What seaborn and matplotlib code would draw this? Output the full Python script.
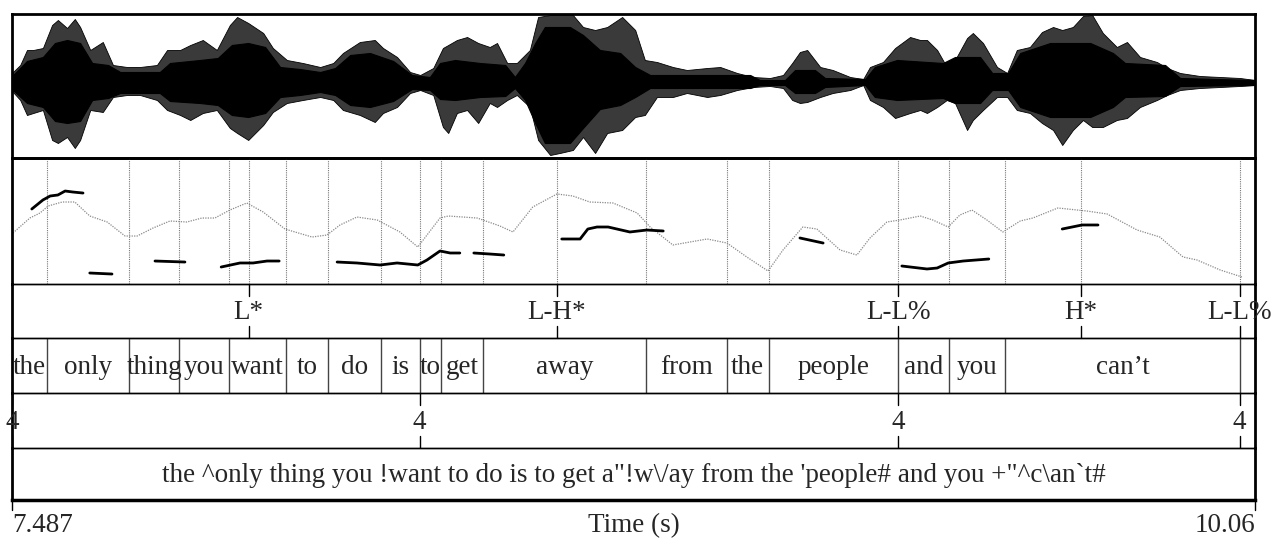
import numpy as np
import pandas as pd
import matplotlib
matplotlib.use("Agg")
import matplotlib.pyplot as plt
from matplotlib.lines import Line2D
import seaborn as sns

# ---------------- data ----------------
T0, T1 = 7.487, 10.06

# waveform: outer spike envelope
wave_t = [7.489, 7.504, 7.518, 7.531, 7.551, 7.570, 7.582, 7.601, 7.617, 7.628,
          7.649, 7.675, 7.696, 7.725, 7.752, 7.787, 7.808, 7.835, 7.856, 7.882,
          7.911, 7.938, 7.953, 7.976, 8.007, 8.027, 8.056, 8.089, 8.125, 8.152,
          8.172, 8.207, 8.238, 8.255, 8.284, 8.311, 8.332, 8.359, 8.379, 8.390,
          8.408, 8.429, 8.452, 8.476, 8.491, 8.512, 8.532, 8.559, 8.576, 8.601,
          8.621, 8.648, 8.669, 8.694, 8.719, 8.750, 8.777, 8.797, 8.822, 8.855,
          8.884, 8.926, 8.953, 8.988, 9.021, 9.056, 9.083, 9.102, 9.118, 9.133,
          9.160, 9.186, 9.222, 9.249, 9.263, 9.290, 9.315, 9.346, 9.367, 9.381,
          9.402, 9.422, 9.439, 9.464, 9.476, 9.497, 9.526, 9.547, 9.567, 9.594,
          9.619, 9.642, 9.661, 9.683, 9.704, 9.723, 9.745, 9.774, 9.795, 9.822,
          9.857, 9.878, 9.905, 9.946, 9.988, 10.029, 10.060]
wave_hi = [11, 18, 33, 33, 35, 58, 63, 55, 64, 56,
           33, 41, 18, 16, 16, 18, 33, 33, 38, 43,
           33, 58, 66, 60, 50, 35, 23, 20, 16, 20,
           30, 41, 43, 35, 26, 11, 8, 15, 35, 38,
           43, 46, 40, 36, 40, 20, 20, 33, 66, 68,
           68, 68, 56, 53, 56, 66, 53, 23, 21, 16,
           13, 15, 16, 10, 6, 5, 8, 20, 31, 33,
           16, 13, 6, 4, 16, 21, 35, 46, 43, 43,
           33, 16, 23, 45, 50, 40, 16, 10, 33, 36,
           51, 56, 53, 56, 67, 68, 50, 36, 41, 26,
           21, 15, 10, 7, 6, 5, 3]
wave_lo = [-9, -17, -32, -30, -27, -57, -60, -54, -65, -57,
           -27, -29, -14, -12, -12, -17, -27, -32, -37, -30,
           -27, -45, -50, -57, -42, -29, -20, -17, -14, -17,
           -27, -32, -39, -30, -24, -10, -7, -12, -44, -50,
           -30, -27, -40, -20, -24, -17, -12, -24, -57, -72,
           -70, -67, -54, -70, -50, -47, -34, -32, -14, -14,
           -10, -14, -12, -7, -4, -3, -5, -17, -20, -19,
           -14, -10, -7, -2, -17, -24, -35, -30, -27, -30,
           -24, -17, -20, -47, -37, -27, -14, -14, -27, -30,
           -40, -47, -62, -47, -37, -44, -44, -37, -35, -24,
           -17, -12, -7, -5, -4, -3, -2]

# waveform: dense core
core_t = [7.489, 7.518, 7.551, 7.576, 7.601, 7.628, 7.653, 7.686, 7.711, 7.793,
          7.814, 7.876, 7.913, 7.942, 7.976, 8.011, 8.042, 8.083, 8.125, 8.156,
          8.187, 8.228, 8.276, 8.315, 8.352, 8.373, 8.404, 8.456, 8.508, 8.528,
          8.549, 8.570, 8.590, 8.642, 8.669, 8.704, 8.746, 8.777, 8.808, 9.015,
          9.035, 9.087, 9.108, 9.149, 9.170, 9.253, 9.273, 9.319, 9.414, 9.439,
          9.491, 9.516, 9.549, 9.574, 9.636, 9.719, 9.766, 9.791, 9.874, 9.905,
          10.060]
core_hi = [8, 22, 26, 40, 43, 40, 20, 18, 11, 11,
           20, 23, 25, 38, 40, 36, 16, 14, 11, 15,
           28, 30, 22, 8, 6, 20, 23, 20, 18, 6,
           20, 40, 56, 56, 48, 33, 30, 16, 8, 8,
           3, 3, 13, 13, 5, 4, 16, 23, 20, 26,
           26, 10, 10, 30, 40, 40, 30, 20, 18, 5,
           3]
core_lo = [-7, -20, -24, -38, -40, -38, -17, -15, -10, -10,
           -18, -20, -22, -32, -34, -30, -14, -12, -9, -12,
           -22, -24, -18, -6, -7, -16, -17, -14, -13, -5,
           -17, -40, -60, -60, -45, -26, -22, -14, -5, -5,
           -2, -2, -10, -10, -4, -2, -14, -17, -15, -20,
           -20, -7, -7, -24, -34, -34, -24, -14, -13, -3,
           -2]

# stylised pitch (thick black segments)
pitch_seg = [1, 1, 1, 1, 1, 1, 1,
             2, 2,
             3, 3,
             4, 4, 4, 4, 4,
             5, 5, 5, 5, 5, 5, 5, 5, 5,
             6, 6, 6,
             7, 7, 7, 7, 7, 7, 7, 7,
             8, 8,
             9, 9, 9, 9, 9, 9,
             10, 10, 10]
pitch_t = [7.528, 7.551, 7.566, 7.582, 7.597, 7.613, 7.634,
           7.648, 7.694,
           7.783, 7.845,
           7.920, 7.959, 7.986, 8.015, 8.040,
           8.160, 8.201, 8.249, 8.284, 8.327, 8.346, 8.373, 8.394, 8.414,
           8.443, 8.476, 8.505,
           8.625, 8.663, 8.679, 8.698, 8.721, 8.766, 8.801, 8.835,
           9.118, 9.166,
           9.329, 9.381, 9.402, 9.425, 9.456, 9.509,
           9.661, 9.702, 9.735]
pitch_hz = [198.8, 216.7, 224.6, 226.6, 234.5, 232.5, 230.5,
            71.8, 69.8,
            95.6, 93.6,
            83.7, 91.7, 91.7, 95.6, 95.6,
            93.6, 91.7, 87.7, 91.7, 87.7, 97.6, 115.5, 111.5, 111.5,
            111.5, 109.5, 107.5,
            139.3, 139.3, 159.1, 163.1, 163.1, 153.2, 157.1, 155.2,
            141.3, 131.3,
            85.7, 79.8, 81.7, 91.7, 95.6, 99.6,
            159.1, 167.1, 167.1]

# smoothed contour (grey dotted)
contour_t = [7.489, 7.524, 7.545, 7.562, 7.591, 7.617, 7.648, 7.684, 7.721, 7.746,
             7.779, 7.814, 7.849, 7.880, 7.907, 7.938, 7.973, 8.007, 8.052, 8.108,
             8.139, 8.166, 8.201, 8.243, 8.290, 8.327, 8.373, 8.390, 8.450, 8.497,
             8.524, 8.565, 8.615, 8.648, 8.683, 8.731, 8.781, 8.808, 8.855, 8.926,
             8.967, 9.008, 9.052, 9.083, 9.124, 9.153, 9.201, 9.236, 9.263, 9.298,
             9.325, 9.367, 9.393, 9.425, 9.449, 9.474, 9.505, 9.538, 9.574, 9.600,
             9.652, 9.712, 9.754, 9.816, 9.863, 9.911, 9.940, 9.988, 10.033]
contour_hz = [151.2, 180.9, 190.9, 204.8, 212.7, 212.7, 184.9, 173.0, 145.2, 145.2,
              161.1, 175.0, 173.0, 180.9, 180.9, 196.8, 210.7, 192.8, 159.1, 143.2,
              147.2, 167.1, 182.9, 177.0, 153.2, 123.4, 180.9, 184.9, 180.9, 165.1,
              153.2, 202.8, 228.6, 224.6, 212.7, 210.7, 190.9, 163.1, 127.4, 139.3,
              131.3, 103.6, 75.8, 117.5, 163.1, 159.1, 117.5, 107.5, 141.3, 173.0,
              177.0, 184.9, 177.0, 163.1, 186.9, 196.8, 177.0, 153.2, 175.0, 180.9,
              200.8, 194.8, 188.9, 157.1, 143.2, 103.6, 97.6, 77.8, 63.9]

words = ["the", "only", "thing", "you", "want", "to", "do", "is", "to", "get",
         "away", "from", "the", "people", "and", "you", "can\u2019t", ""]
word_bounds = [7.487, 7.559, 7.730, 7.833, 7.936, 8.054, 8.141, 8.251, 8.331, 8.375,
               8.462, 8.799, 8.967, 9.053, 9.322, 9.427, 9.543, 10.028, 10.06]

tones = ["L*", "L-H*", "L-L%", "H*", "L-L%"]
tone_t = [7.977, 8.615, 9.322, 9.700, 10.028]

breaks = ["4", "4", "4", "4"]
break_t = [7.487, 8.331, 9.322, 10.028]

comment = "the ^only thing you !want to do is to get a\"!w\\/ay from the 'people# and you +\"^c\\an`t#"

# ---------------- style ----------------
sns.set_theme(style="white")
plt.rcParams['font.family'] = ['Liberation Serif', 'DejaVu Serif']
FS = 19.5

fig = plt.figure(figsize=(12.73, 5.41), dpi=100)
FW, FH = 1273, 541
L = 12 / FW
W = 1243 / FW


def ax_at(top, bot):
    a = fig.add_axes([L, (FH - bot) / FH, W, (bot - top) / FH])
    a.set_xlim(T0, T1)
    a.set_xticks([])
    a.set_yticks([])
    for s in a.spines.values():
        s.set_color("black")
        s.set_linewidth(1.0)
    a.spines["left"].set_linewidth(2)
    a.spines["right"].set_linewidth(2)
    a.patch.set_alpha(0)
    return a


ax_w = ax_at(14, 158)
ax_p = ax_at(158, 284)
ax_tone = ax_at(284, 338)
ax_word = ax_at(338, 393)
ax_brk = ax_at(393, 448)
ax_cmt = ax_at(448, 500)

ax_w.spines["top"].set_linewidth(2)
ax_w.spines["bottom"].set_linewidth(2)
ax_p.spines["top"].set_linewidth(2)
ax_cmt.spines["bottom"].set_linewidth(2.5)

# waveform
ax_w.set_ylim(-75, 69)
ax_w.fill_between(wave_t, wave_lo, wave_hi, color="#3a3a3a", lw=0.6,
                  edgecolor="black")
ax_w.fill_between(core_t, core_lo, core_hi, color="black", lw=0.8)

# pitch panel
ax_p.set_ylim(50, 300)
for t in sorted(set(word_bounds[1:-1] + tone_t)):
    ax_p.axvline(t, color="#777777", lw=0.8, ls=(0, (1, 1)))
cdf = pd.DataFrame({"t": contour_t, "hz": contour_hz})
sns.lineplot(data=cdf, x="t", y="hz", ax=ax_p, color="#8a8a8a", lw=0.9,
             linestyle=(0, (1, 1)), estimator=None, sort=False)
pdf = pd.DataFrame({"t": pitch_t, "hz": pitch_hz, "seg": pitch_seg})
sns.lineplot(data=pdf, x="t", y="hz", units="seg", estimator=None, ax=ax_p,
             color="black", lw=2.0, sort=False)
ax_p.set_xlabel("")
ax_p.set_ylabel("")
ax_p.set_xlim(T0, T1)
ax_p.set_xticks([])
ax_p.set_yticks([])

# tiers
for a in (ax_tone, ax_word, ax_brk, ax_cmt):
    a.set_ylim(0, 1)
tick = 12 / 54
for lab, t in zip(tones, tone_t):
    ax_tone.plot([t, t], [1 - tick, 1], color="black", lw=1)
    ax_tone.plot([t, t], [0, tick], color="black", lw=1)
    ax_tone.text(t, 0.47, lab, ha="center", va="center", fontsize=FS, clip_on=False)

for b in word_bounds[1:-1]:
    ax_word.axvline(b, color="#444444", lw=1)
for w, a, b in zip(words, word_bounds[:-1], word_bounds[1:]):
    if w:
        ax_word.text((a + b) / 2, 0.47, w, ha="center", va="center", fontsize=FS)

for lab, t in zip(breaks, break_t):
    ax_brk.plot([t, t], [1 - tick, 1], color="black", lw=1)
    ax_brk.plot([t, t], [0, tick], color="black", lw=1)
    ax_brk.text(t, 0.47, lab, ha="center", va="center", fontsize=FS, clip_on=False)

ax_cmt.text((T0 + T1) / 2, 0.47, comment, ha="center", va="center", fontsize=FS)

# time axis
for x in (12, 1255):
    fig.add_artist(Line2D([x / FW, x / FW], [(FH - 501) / FH, (FH - 510) / FH],
                          color="black", lw=1))
ty = (FH - 526) / FH
fig.text(12 / FW, ty, "7.487", ha="left", va="center", fontsize=FS)
fig.text(634 / FW, ty, "Time (s)", ha="center", va="center", fontsize=FS)
fig.text(1255 / FW, ty, "10.06", ha="right", va="center", fontsize=FS)

fig.savefig("out.png", dpi=100)
